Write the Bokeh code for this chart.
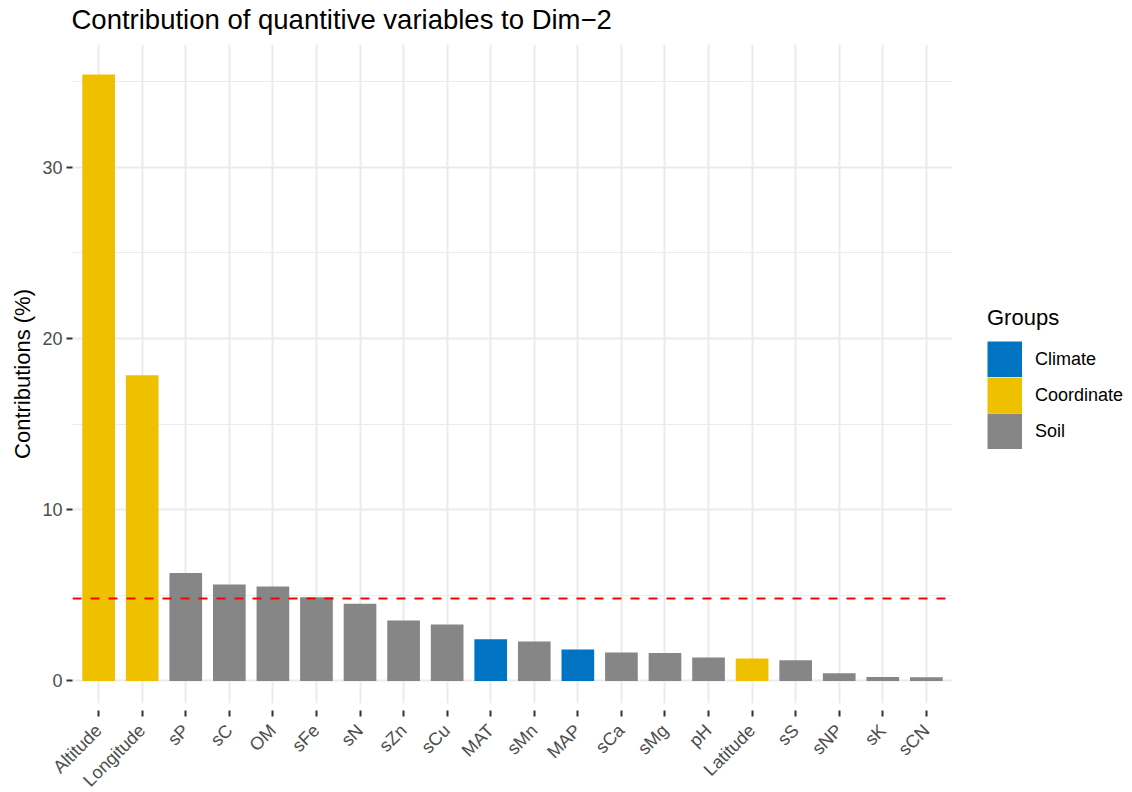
import math
from bokeh.plotting import figure
from bokeh.layouts import row
from bokeh.models import (ColumnDataSource, CDSView, GroupFilter, Range1d, FixedTicker,
                          Span, Legend, LegendItem, SingleIntervalTicker, Title)
from bokeh.embed import file_html
from bokeh.resources import INLINE

# ---- data ----
variables = ["Altitude", "Longitude", "sP", "sC", "OM", "sFe", "sN", "sZn", "sCu", "MAT",
             "sMn", "MAP", "sCa", "sMg", "pH", "Latitude", "sS", "sNP", "sK", "sCN"]
contributions = [35.42, 17.85, 6.30, 5.63, 5.51, 4.89, 4.50, 3.53, 3.29, 2.43,
                 2.30, 1.83, 1.66, 1.63, 1.37, 1.31, 1.21, 0.45, 0.23, 0.22]
groups = ["Coordinate", "Coordinate", "Soil", "Soil", "Soil", "Soil", "Soil", "Soil", "Soil", "Climate",
          "Soil", "Climate", "Soil", "Soil", "Soil", "Coordinate", "Soil", "Soil", "Soil", "Soil"]
group_names = ["Climate", "Coordinate", "Soil"]
group_colors = ["#0073C2", "#EFC000", "#868686"]
expected_contribution = 4.81
title_text = "Contribution of quantitive variables to Dim\u22122"
y_label = "Contributions (%)"
legend_title = "Groups"

FONT = "Liberation Sans"

positions = list(range(1, len(variables) + 1))
source = ColumnDataSource(data=dict(pos=positions, variable=variables,
                                    contrib=contributions, group=groups))

# ---------------- main plot ----------------
p = figure(x_range=Range1d(0.4, len(variables) + 0.6),
           y_range=Range1d(-1.32, 37.17),
           frame_width=880, frame_height=659,
           min_border_left=72, min_border_right=0, min_border_top=44, min_border_bottom=89,
           output_backend="svg", toolbar_location=None)

p.background_fill_color = "white"
p.border_fill_color = "white"
p.outline_line_color = None

# title: a thin spacer next to the frame, then the real title above it
p.add_layout(Title(text=" ", text_font_size="1px", standoff=7), "above")
main_title = Title(text=title_text, text_font=FONT, text_font_size="27.5px",
                   text_font_style="normal", text_color="black", align="left",
                   standoff=0, offset=-1)
p.add_layout(main_title, "above")

# bars
for name, color in zip(group_names, group_colors):
    view = CDSView(filter=GroupFilter(column_name="group", group=name))
    p.vbar(x="pos", top="contrib", bottom=0, width=0.75, source=source, view=view,
           fill_color=color, line_color=None)

# reference line
p.add_layout(Span(location=expected_contribution, dimension="width", line_color="red",
                  line_width=2, line_dash="9 9"))

# grids
p.xgrid.grid_line_color = "#EBEBEB"
p.xgrid.grid_line_width = 2
p.ygrid.grid_line_color = "#EBEBEB"
p.ygrid.grid_line_width = 2
p.ygrid.minor_grid_line_color = "#EBEBEB"
p.ygrid.minor_grid_line_width = 1

# y axis
yax = p.yaxis[0]
yax.ticker = SingleIntervalTicker(interval=10, num_minor_ticks=2)
yax.axis_label = y_label
yax.axis_label_text_font = FONT
yax.axis_label_text_font_size = "22px"
yax.axis_label_text_font_style = "normal"
yax.axis_label_text_color = "black"
yax.axis_label_standoff = 4
yax.axis_line_color = None
yax.minor_tick_line_color = None
yax.major_tick_in = 0
yax.major_tick_out = 6
yax.major_tick_line_color = "#333333"
yax.major_tick_line_width = 2
yax.major_label_text_font = FONT
yax.major_label_text_font_size = "18px"
yax.major_label_text_color = "#4D4D4D"
yax.major_label_standoff = 4

# x axis (categories)
xax = p.xaxis[0]
xax.ticker = FixedTicker(ticks=positions)
xax.major_label_overrides = {pos: name for pos, name in zip(positions, variables)}
xax.minor_tick_line_color = None
xax.axis_line_color = None
xax.major_tick_in = -7
xax.major_tick_out = 13
xax.major_tick_line_color = "#333333"
xax.major_tick_line_width = 2
xax.major_label_orientation = math.pi / 4
xax.major_label_text_font = FONT
xax.major_label_text_font_size = "18px"
xax.major_label_text_color = "#4D4D4D"
xax.major_label_standoff = 11

# ---------------- legend panel ----------------
lg = figure(width=180, height=792, x_range=Range1d(0, 180), y_range=Range1d(0, 792),
            min_border=0, x_axis_location=None, y_axis_location=None,
            output_backend="svg", toolbar_location=None)
lg.grid.visible = False
lg.outline_line_color = None
lg.background_fill_color = "white"
lg.border_fill_color = "white"

items = []
for name, color in zip(group_names, group_colors):
    # key swatch: a thick line glyph fills the whole legend key box
    r = lg.line(x=[math.nan], y=[math.nan], line_color=color, line_width=36, line_cap="butt")
    items.append(LegendItem(label=name, renderers=[r]))

legend = Legend(items=items, title=legend_title, location=(35, 246),
                glyph_width=35, glyph_height=36, spacing=0,
                padding=0, margin=0, label_standoff=13,
                border_line_color=None, background_fill_alpha=0)
legend.title_text_font = FONT
legend.title_text_font_size = "22px"
legend.title_text_font_style = "normal"
legend.title_text_color = "black"
legend.title_standoff = 10
legend.label_text_font = FONT
legend.label_text_font_size = "18px"
legend.label_text_color = "black"
lg.add_layout(legend)

layout = row(p, lg)

open("out.html", "w").write(file_html(layout, INLINE))
